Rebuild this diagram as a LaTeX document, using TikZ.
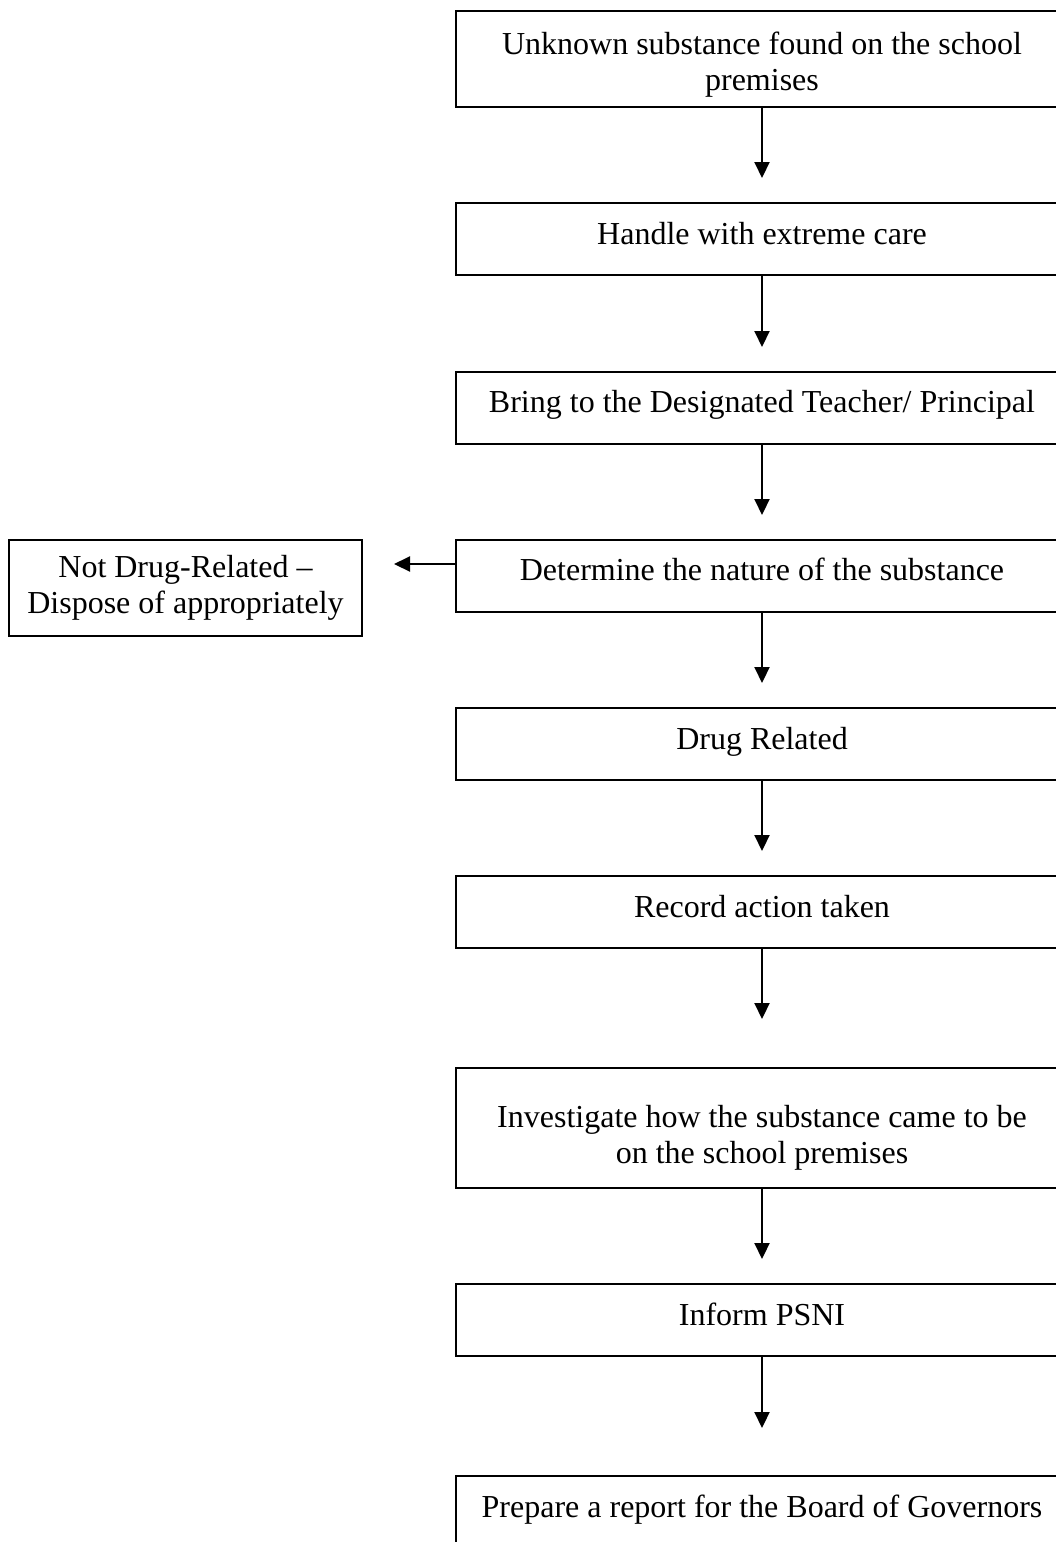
\documentclass[tikz,border=0pt]{standalone}
\usepackage{fontspec}
\setmainfont{Liberation Serif}
\usetikzlibrary{arrows.meta}
\begin{document}
\begin{tikzpicture}[x=0.375pt,y=-0.375pt,
  box/.style={draw,line width=0.75pt,minimum width=229.5pt,minimum height=27pt,
    inner sep=0pt,align=center,font=\fontsize{12}{13.5}\selectfont},
  one/.style={box,text height=8pt,text depth=4.2pt},
  flow/.style={line width=0.9pt,-{Triangle[width=5.6pt,length=6pt]}}]
\useasboundingbox (0,0) rectangle (1056,1542);
\clip (0,0) rectangle (1056,1542);
\node[box,minimum height=36pt] (b1) at (762,59) {\rule{0pt}{13pt}Unknown substance found on the school\\premises};
\node[one] (b2) at (762,239) {Handle with extreme care};
\node[one] (b3) at (762,407.5) {Bring to the Designated Teacher/ Principal};
\node[one] (b4) at (762,575.5) {Determine the nature of the substance};
\node[box,minimum width=132.4pt,minimum height=36pt] (nd) at (185.5,588) {Not Drug-Related --\\Dispose of appropriately};
\node[one] (b5) at (762,744) {Drug Related};
\node[one] (b6) at (762,912) {Record action taken};
\node[box,minimum height=45pt] (b7) at (762,1128) {\rule{0pt}{16pt}Investigate how the substance came to be\\on the school premises};
\node[one] (b8) at (762,1320) {Inform PSNI};
\node[one] (b9) at (762,1512) {Prepare a report for the Board of Governors};
\coordinate (a1) at (762,178);
\coordinate (a2) at (762,347);
\coordinate (a3) at (762,515);
\coordinate (a4) at (762,683);
\coordinate (a5) at (762,851);
\coordinate (a6) at (762,1019);
\coordinate (a7) at (762,1259);
\coordinate (a8) at (762,1428);
\coordinate (al) at (394,564);
\draw[flow] (b1.south) -- (a1);
\draw[flow] (b2.south) -- (a2);
\draw[flow] (b3.south) -- (a3);
\draw[flow] (b4.south) -- (a4);
\draw[flow] (b5.south) -- (a5);
\draw[flow] (b6.south) -- (a6);
\draw[flow] (b7.south) -- (a7);
\draw[flow] (b8.south) -- (a8);
\draw[flow] (b4.west |- al) -- (al);
\end{tikzpicture}
\end{document}
